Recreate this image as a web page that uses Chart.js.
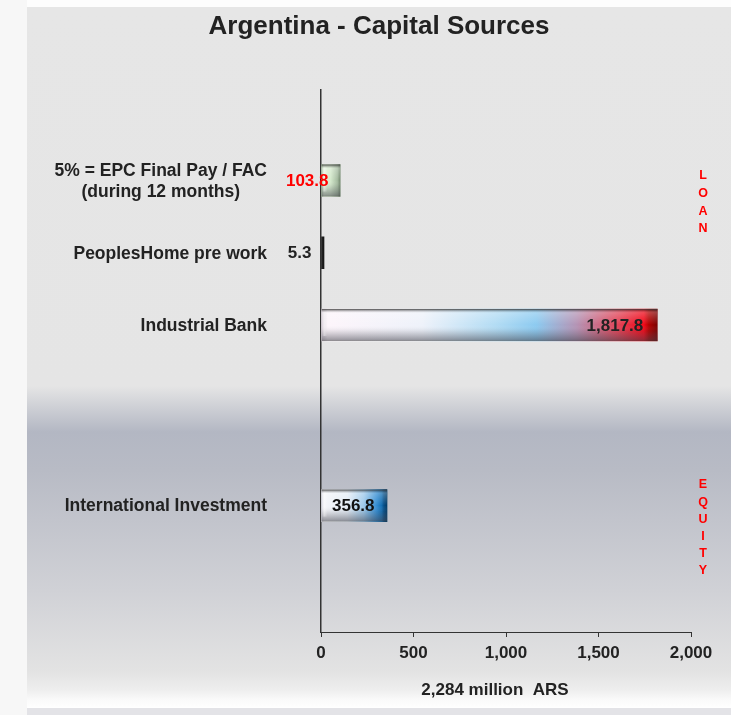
<!DOCTYPE html>
<html>
<head>
<meta charset="utf-8">
<title>Argentina - Capital Sources</title>
<script src="https://cdn.jsdelivr.net/npm/chart.js@4.4.1/dist/chart.umd.min.js"></script>
<style>
  html, body { margin:0; padding:0; background:#fff; }
  #wrap { width:731px; height:715px; }
</style>
</head>
<body>
<div id="wrap"><canvas id="chart" width="731" height="715"></canvas></div>
<script>
// ---------- data ----------
const chartTitle = "Argentina - Capital Sources"
const categories = [
  "5% = EPC Final Pay / FAC\n(during 12 months)",
  "PeoplesHome pre work",
  "Industrial Bank",
  "International Investment"
]
const values = [103.8, 5.3, 1817.8, 356.8]
const xTicks = [0, 500, 1000, 1500, 2000]
const axisTitle = "2,284 million  ARS"
const groupNames = ["LOAN", "EQUITY"]

// ---------- layout / style ----------
const FONT = "'Liberation Sans', Arial, sans-serif"
const TEXT = "#222"
const SLOTS = 15
const rowSlot = [2, 4, 6, 11]          // where each category sits on the 15-slot axis

const barStops = [
  [[0,'#93a98e'],[0.15,'#dff1d7'],[0.5,'#d4e9cc'],[0.85,'#a6bca1'],[1,'#73896e']],
  [[0,'#2b2b2b'],[1,'#141414']],
  [[0,'#d9d0d9'],[0.02,'#fdf5fb'],[0.3,'#eef2fa'],[0.52,'#b2dcf4'],[0.64,'#8ccaf0'],
   [0.76,'#b493b4'],[0.88,'#e04458'],[0.96,'#f00818'],[0.975,'#b00000'],[1,'#7a0000']],
  [[0,'#d9d9e2'],[0.05,'#f4f5f9'],[0.4,'#e4ecf5'],[0.65,'#9cc8ea'],[0.85,'#2f8ad0'],
   [0.92,'#146db0'],[0.95,'#07508a'],[1,'#003a66']]
]
// value label style: colour, anchor (base/end/center), offset, align
const valueStyle = [
  { color:'#ff0000', at:'base',   dx:7,   align:'right' },
  { color:TEXT,      at:'base',   dx:-10, align:'right' },
  { color:TEXT,      at:'end',    dx:-14, align:'right' },
  { color:'#111',    at:'center', dx:-1,  align:'center' }
]

const slotLabels = Array(SLOTS).fill("")
const slotValues = Array(SLOTS).fill(null)
rowSlot.forEach((s, i) => {
  slotLabels[s] = categories[i]
  slotValues[s] = values[i]
})

function fmt(v){
  return v.toLocaleString("en-US", { minimumFractionDigits:1, maximumFractionDigits:1 })
}

// background panel
const backdrop = {
  id:"backdrop",
  beforeDraw(chart){
    const ctx = chart.ctx, W = chart.width, H = chart.height
    ctx.save()
    ctx.fillStyle = "#f7f7f7"
    ctx.fillRect(0, 0, W, H)
    ctx.fillStyle = "#fdfdfd"
    ctx.fillRect(27, 0, W - 27, 7)
    const g = ctx.createLinearGradient(0, 7, 0, 708)
    const stop = (y, c) => g.addColorStop((y - 7) / 701, c)
    stop(7, "#e6e6e6"); stop(386, "#e5e5e5"); stop(432, "#b3b7c3")
    stop(470, "#b8bbc5"); stop(590, "#d0d1d6"); stop(672, "#e3e3e3")
    stop(690, "#eeeeee"); stop(700, "#fafafa"); stop(708, "#ffffff")
    ctx.fillStyle = g
    ctx.fillRect(27, 7, W - 27, 701)
    ctx.fillStyle = "#e3e3e7"
    ctx.fillRect(27, 708, W - 27, H - 708)
    ctx.restore()
  }
}

// bevel shading, value labels, category labels, side notes
const decor = {
  id:"decor",
  afterDatasetsDraw(chart){
    const ctx = chart.ctx
    const meta = chart.getDatasetMeta(0)
    const yScale = chart.scales.y
    ctx.save()

    meta.data.forEach((bar, slot) => {
      const i = rowSlot.indexOf(slot)
      if (i < 0) return
      const p = bar.getProps(["x","y","base","height"], true)
      const top = p.y - p.height / 2, left = Math.min(p.x, p.base), w = Math.abs(p.x - p.base)
      if (w > 6) {
        const g = ctx.createLinearGradient(0, top, 0, top + p.height)
        g.addColorStop(0, "rgba(50,50,50,0.9)")
        g.addColorStop(0.05, "rgba(90,90,90,0.45)")
        g.addColorStop(0.12, "rgba(255,255,255,0.25)")
        g.addColorStop(0.5, "rgba(255,255,255,0)")
        g.addColorStop(0.68, "rgba(90,90,100,0.12)")
        g.addColorStop(0.95, "rgba(70,70,80,0.5)")
        g.addColorStop(1, "rgba(60,60,60,0.6)")
        ctx.fillStyle = g
        ctx.fillRect(left, top, w, p.height)
        // soft highlight on left end
        const h = ctx.createLinearGradient(left, 0, left + 6, 0)
        h.addColorStop(0, "rgba(255,255,255,0)")
        h.addColorStop(0.5, "rgba(255,255,255,0.35)")
        h.addColorStop(1, "rgba(255,255,255,0)")
        ctx.fillStyle = h
        ctx.fillRect(left + 1, top + 3, 6, p.height - 8)
      }

      // value label
      const st = valueStyle[i]
      let tx = st.at === "base" ? p.base : st.at === "end" ? p.x : (p.x + p.base) / 2
      tx += st.dx
      ctx.font = "bold 17px " + FONT
      ctx.fillStyle = st.color
      ctx.textAlign = st.align
      ctx.textBaseline = "middle"
      ctx.fillText(fmt(values[i]), tx, p.y + 1)
    })

    // category labels (multi-line blocks are centred, block right edge fixed)
    const rightEdge = chart.chartArea.left - 54
    ctx.font = "bold 17.5px " + FONT
    ctx.fillStyle = TEXT
    ctx.textAlign = "center"
    ctx.textBaseline = "middle"
    categories.forEach((c, i) => {
      const lines = c.split("\n")
      const wMax = Math.max(...lines.map(l => ctx.measureText(l).width))
      const cy = yScale.getPixelForValue(rowSlot[i])
      const lh = 21
      lines.forEach((l, k) => {
        ctx.fillText(l, rightEdge - wMax / 2, cy + 1 + (k - (lines.length - 1) / 2) * lh)
      })
    })

    // LOAN / EQUITY notes
    ctx.font = "bold 12.5px " + FONT
    ctx.fillStyle = "#ff0000"
    const noteTop = [176, 485]
    const noteStep = [17.6, 17.2]
    groupNames.forEach((name, g) => {
      name.split("").forEach((ch, k) => {
        ctx.fillText(ch, 703, noteTop[g] + k * noteStep[g])
      })
    })

    // x axis caption
    ctx.font = "bold 17px " + FONT
    ctx.fillStyle = TEXT
    const xs = chart.scales.x
    ctx.fillText(axisTitle, (xs.left + xs.right) / 2 - 11, 690)
    ctx.restore()
  }
}

const ctx = document.getElementById("chart")

new Chart(ctx, {
  type:"bar",
  data:{
    labels:slotLabels,
    datasets:[{
      data:slotValues,
      barThickness:32,
      minBarLength:3,
      borderWidth:0,
      backgroundColor:c => {
        if (c.type !== "data" || c.raw == null) return "transparent"
        const chart = c.chart
        if (!chart.chartArea) return "#ccc"
        const i = rowSlot.indexOf(c.dataIndex)
        const xs = chart.scales.x
        const x0 = xs.getPixelForValue(0)
        const x1 = Math.max(xs.getPixelForValue(c.raw), x0 + 3)
        const g = chart.ctx.createLinearGradient(x0, 0, x1, 0)
        barStops[i].forEach(s => g.addColorStop(s[0], s[1]))
        return g
      }
    }]
  },
  options:{
    indexAxis:"y",
    responsive:false,
    animation:false,
    layout:{ padding:{ left:67, right:40, top:0, bottom:0 } },
    plugins:{
      legend:{ display:false },
      tooltip:{ enabled:false },
      title:{
        display:true,
        text:chartTitle,
        color:TEXT,
        font:{ family:FONT, size:26, weight:"bold" },
        padding:{ top:11, bottom:48 }
      }
    },
    scales:{
      x:{
        min:xTicks[0],
        max:xTicks[xTicks.length - 1],
        ticks:{
          stepSize:xTicks[1] - xTicks[0],
          color:TEXT,
          padding:6,
          font:{ family:FONT, size:17, weight:"bold" },
          callback:v => v.toLocaleString("en-US")
        },
        grid:{ drawOnChartArea:false, drawTicks:true, tickLength:5, color:"#333" },
        border:{ color:"#333", width:1 },
        afterFit:s => { s.height = 83 }
      },
      y:{
        ticks:{ display:false },
        grid:{ display:false },
        border:{ color:"#333", width:1.5 },
        afterFit:s => { s.width = 254 }
      }
    }
  },
  plugins:[backdrop, decor]
})
</script>
</body>
</html>
